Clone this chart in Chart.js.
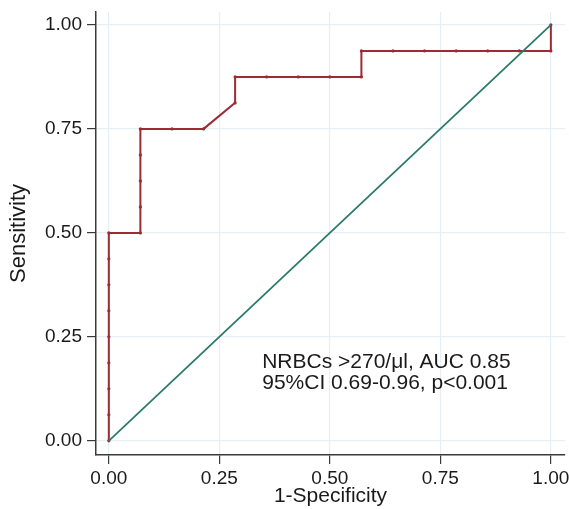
<!DOCTYPE html>
<html>
<head>
<meta charset="utf-8">
<script src="https://cdn.jsdelivr.net/npm/chart.js@4.4.1/dist/chart.umd.min.js"></script>
<style>
  html, body { margin: 0; padding: 0; background: #fff; }
</style>
</head>
<body>
<canvas id="roc" width="569" height="509"></canvas>
<script>
// ROC points: 1-specificity and sensitivity at each cut point
var fpr = [0, 0, 0, 0, 0, 0, 0, 0, 0,
  0.0714, 0.0714, 0.0714, 0.0714, 0.0714,
  0.1429, 0.2143, 0.2857, 0.2857, 0.3571, 0.4286, 0.5, 0.5714,
  0.5714, 0.6429, 0.7143, 0.7857, 0.8571, 0.9286, 1, 1];
var sens = [0, 0.0625, 0.125, 0.1875, 0.25, 0.3125, 0.375, 0.4375, 0.5,
  0.5, 0.5625, 0.625, 0.6875, 0.75,
  0.75, 0.75, 0.8125, 0.875, 0.875, 0.875, 0.875, 0.875,
  0.9375, 0.9375, 0.9375, 0.9375, 0.9375, 0.9375, 0.9375, 1];

// reference (chance) line
var refX = [0, 1];
var refY = [0, 1];

var tickVals = [0, 0.25, 0.5, 0.75, 1];
var tickLabels = ['0.00', '0.25', '0.50', '0.75', '1.00'];

var noteLines = ['NRBCs >270/\u03bcl, AUC 0.85', '95%CI 0.69-0.96, p<0.001'];

var red = '#9c2b33';
var teal = '#2b7a6a';
var gridCol = '#e5eff4';
var axisCol = '#3a3a3a';
var fontFam = '"Liberation Sans", Arial, sans-serif';

function pts(xs, ys) {
  return xs.map(function (x, i) { return { x: x, y: ys[i] }; });
}

var noteText = {
  id: 'noteText',
  afterDatasetsDraw: function (chart) {
    var ctx = chart.ctx;
    var x = chart.scales.x.getPixelForValue(0.347);
    var y = chart.scales.y.getPixelForValue(0.175);
    ctx.save();
    ctx.font = '21px ' + fontFam;
    ctx.fillStyle = '#1a1a1a';
    ctx.textAlign = 'left';
    ctx.textBaseline = 'alphabetic';
    noteLines.forEach(function (t, i) { ctx.fillText(t, x, y + i * 20.5); });
    ctx.restore();
  }
};

function axisOpts(min, max, title, titleSize, pad) {
  return {
    type: 'linear',
    min: min,
    max: max,
    afterBuildTicks: function (s) {
      s.ticks = tickVals.map(function (v) { return { value: v }; });
    },
    ticks: {
      autoSkip: false,
      maxRotation: 0,
      padding: pad,
      color: '#1a1a1a',
      font: { family: fontFam, size: 19 },
      callback: function (v) {
        var i = tickVals.indexOf(v);
        return i >= 0 ? tickLabels[i] : '';
      }
    },
    grid: { color: gridCol, lineWidth: 1.2, tickColor: axisCol, tickLength: 9 },
    border: { color: axisCol, width: 1.5 },
    title: {
      display: true,
      text: title,
      color: '#1a1a1a',
      font: { family: fontFam, size: titleSize },
      padding: 0
    }
  };
}

var xOpts = axisOpts(-0.029, 1.032, '1-Specificity', 21, 3);
xOpts.afterFit = function (s) {
  s.height = 54;
  s.paddingLeft = 0;
  s.paddingRight = 0;
};
var yOpts = axisOpts(-0.034, 1.031, 'Sensitivity', 22, 5);
yOpts.afterFit = function (s) {
  s.width = 90;
  s.paddingTop = 0;
  s.paddingBottom = 0;
};

var ctx = document.getElementById('roc').getContext('2d');
var rocChart = new Chart(ctx, {
  type: 'scatter',
  data: {
    datasets: [
      {
        label: 'Reference',
        data: pts(refX, refY),
        showLine: true,
        borderColor: teal,
        borderWidth: 1.8,
        pointRadius: 0,
        order: 0
      },
      {
        label: 'ROC',
        data: pts(fpr, sens),
        showLine: true,
        borderColor: red,
        borderWidth: 2,
        pointRadius: 1.6,
        pointBackgroundColor: red,
        pointBorderWidth: 0,
        order: 1
      }
    ]
  },
  options: {
    responsive: false,
    devicePixelRatio: 1,
    animation: false,
    layout: { padding: { left: 6, top: 12, right: 4, bottom: 0 } },
    plugins: { legend: { display: false }, tooltip: { enabled: false } },
    scales: { x: xOpts, y: yOpts }
  },
  plugins: [noteText]
});
</script>
</body>
</html>
